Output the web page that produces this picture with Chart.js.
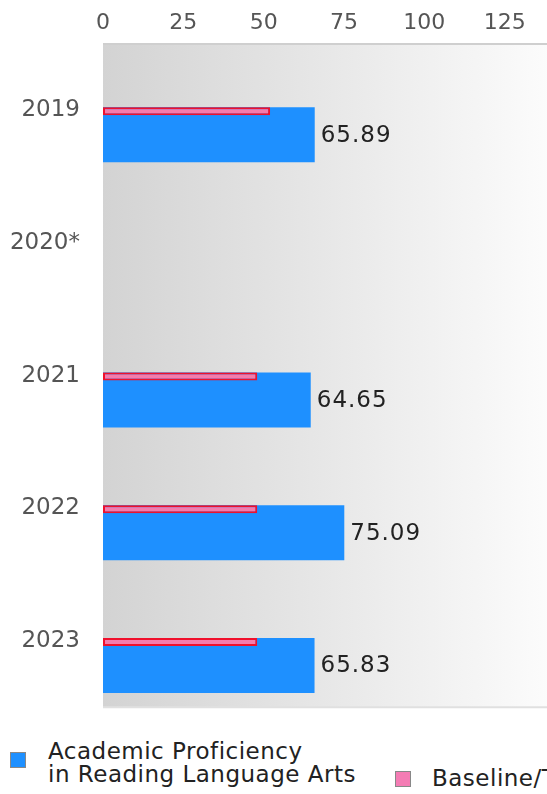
<!DOCTYPE html>
<html>
<head>
<meta charset="utf-8">
<script src="https://cdn.jsdelivr.net/npm/chart.js@4"></script>
<style>
  html, body { margin: 0; padding: 0; background: #fff; overflow: hidden; width: 547px; height: 794px; }
  #wrap { position: relative; width: 610px; height: 794px; }
  #c { position: absolute; left: 0; top: 0; }
  .lg { position: absolute; font-family: "DejaVu Sans", sans-serif; font-size: 23px; letter-spacing: 0.5px; line-height: 23px; color: #222; white-space: nowrap; }
  .sw { position: absolute; box-sizing: border-box; border: 1px solid #888; }
</style>
</head>
<body>
<div id="wrap">
  <canvas id="c" width="610" height="736" style="width:610px;height:736px;"></canvas>
  <div class="sw" style="left:10px;top:752px;width:16px;height:16px;background:#1e90ff;"></div>
  <div class="lg" style="left:48px;top:740px;">Academic Proficiency<br>in Reading Language Arts</div>
  <div class="sw" style="left:395px;top:771px;width:16px;height:16px;background:#f47cb4;"></div>
  <div class="lg" style="left:432px;top:767px;">Baseline/Target</div>
</div>
<script>
const categories = ["2019", "2020*", "2021", "2022", "2023"];
const proficiency = [65.89, null, 64.65, 75.09, 65.83];
const baseline = [52, null, 48, 48, 48];
const xTicks = [0, 25, 50, 75, 100, 125, 150];
const empty = categories.map(() => null);

const FONT = '"DejaVu Sans", sans-serif';
const RED_INDEX = 3;
const BLUE_INDEX = 2;

const bgPlugin = {
  id: 'bgPlugin',
  beforeDatasetsDraw(chart) {
    const { ctx, chartArea: a } = chart;
    ctx.save();
    const g = ctx.createLinearGradient(a.left, 0, a.right, 0);
    g.addColorStop(0, '#d3d3d3');
    g.addColorStop(1, '#ffffff');
    ctx.fillStyle = g;
    ctx.fillRect(a.left, a.top, a.right - a.left, a.bottom - a.top);
    ctx.strokeStyle = '#cfcfcf';
    ctx.lineWidth = 2;
    ctx.beginPath();
    ctx.moveTo(a.left, a.top); ctx.lineTo(a.right, a.top);
    ctx.stroke();
    ctx.strokeStyle = '#e0e0e0';
    ctx.beginPath();
    ctx.moveTo(a.left, a.bottom); ctx.lineTo(a.right, a.bottom);
    ctx.stroke();
    ctx.restore();
  }
};

const overlayPlugin = {
  id: 'overlayPlugin',
  afterDatasetsDraw(chart) {
    const { ctx } = chart;
    // baseline/target marks drawn on top of the proficiency bars
    chart.getDatasetMeta(RED_INDEX).data.forEach(el => { if (el && !el.skip) el.draw(ctx); });
    const meta = chart.getDatasetMeta(BLUE_INDEX);
    ctx.save();
    ctx.font = '23px ' + FONT;
    if ('letterSpacing' in ctx) ctx.letterSpacing = '1px';
    ctx.fillStyle = '#222';
    ctx.textAlign = 'left';
    ctx.textBaseline = 'middle';
    meta.data.forEach((bar, i) => {
      const v = proficiency[i];
      if (v === null || v === undefined) return;
      ctx.fillText(v.toFixed(2), bar.x + 6, bar.y + 1);
    });
    ctx.restore();
  }
};

new Chart(document.getElementById('c'), {
  type: 'bar',
  data: {
    labels: categories,
    datasets: [
      { label: 'pad0', data: empty, stack: 's0' },
      { label: 'pad1', data: empty, stack: 's1' },
      { label: 'Academic Proficiency in Reading Language Arts', data: proficiency, stack: 's2',
        backgroundColor: '#1e90ff', borderWidth: 0,
        categoryPercentage: 1.478, barPercentage: 1.122 },
      { label: 'Baseline/Target', data: baseline, stack: 's3',
        backgroundColor: '#f47cac', borderColor: '#f0102c', borderWidth: 2, borderSkipped: false,
        categoryPercentage: 0.0201, barPercentage: 12 }
    ]
  },
  options: {
    indexAxis: 'y',
    responsive: false,
    animation: false,
    devicePixelRatio: 1,
    layout: { padding: { left: 0, right: 25, top: 0, bottom: 0 } },
    plugins: { legend: { display: false }, tooltip: { enabled: false } },
    scales: {
      x: {
        position: 'top',
        min: 0, max: 150,
        afterBuildTicks(scale) { scale.ticks = xTicks.map(v => ({ value: v })); },
        afterFit(scale) { scale.height = 44; },
        grid: { display: false },
        border: { display: false },
        ticks: { font: { family: FONT, size: 22 }, color: '#555', padding: 0 }
      },
      y: {
        type: 'category',
        afterFit(scale) { scale.width = 103; },
        grid: { display: false },
        border: { display: false },
        ticks: { font: { family: FONT, size: 23 }, color: '#555', padding: 15 }
      }
    }
  },
  plugins: [bgPlugin, overlayPlugin]
});
</script>
</body>
</html>
